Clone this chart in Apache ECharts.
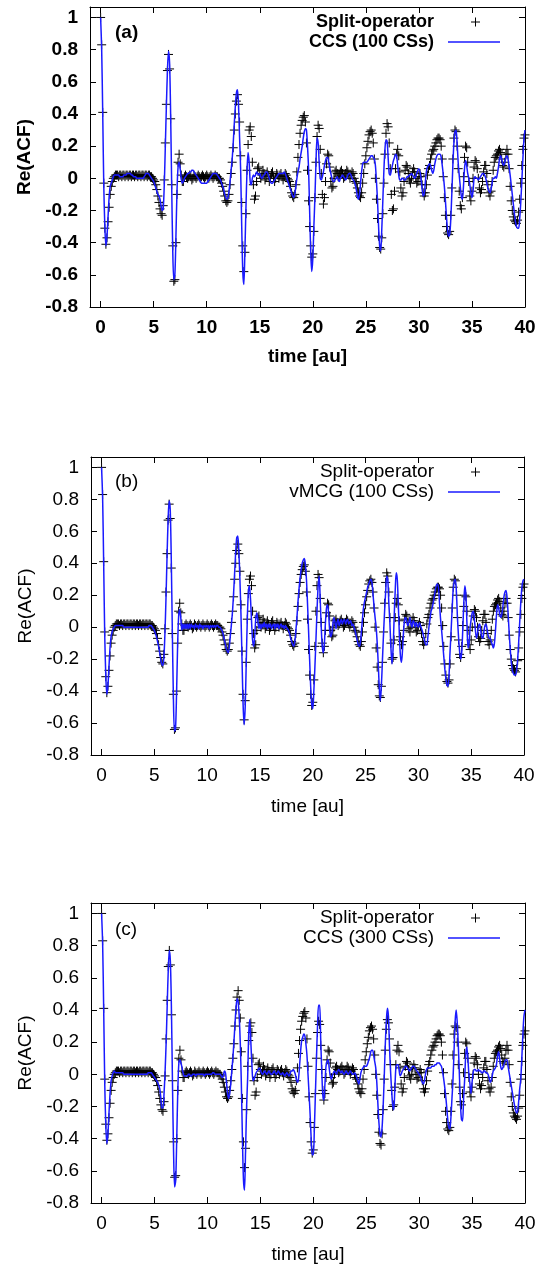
<!DOCTYPE html>
<html><head><meta charset="utf-8">
<script src="https://cdn.jsdelivr.net/npm/echarts@6/dist/echarts.min.js"></script>
<style>html,body{margin:0;padding:0;background:#fff}#c{width:541px;height:1270px}</style>
</head><body><div id="c"></div>
<script>
// time grid of all series: t = T_START + i * T_STEP  (0 ... 40 au)
const T_START = 0, T_STEP = 0.1;

const SPLIT_OPERATOR = [
 1.00, 0.83, 0.41,-0.03,-0.31,-0.41,-0.37,-0.27,-0.18,-0.10,
-0.05,-0.02, 0.00, 0.01, 0.02, 0.02, 0.02, 0.01, 0.02, 0.02,
 0.01, 0.02, 0.02, 0.01, 0.02, 0.02, 0.01, 0.02, 0.02, 0.01,
 0.02, 0.02, 0.01, 0.02, 0.02, 0.01, 0.02, 0.02, 0.01, 0.02,
 0.02, 0.01, 0.02, 0.02, 0.01, 0.02, 0.02, 0.01, 0.01, 0.00,
-0.01,-0.02,-0.04,-0.07,-0.11,-0.15,-0.19,-0.22,-0.23,-0.17,
-0.01, 0.22, 0.46, 0.67, 0.77, 0.68, 0.37,-0.04,-0.42,-0.64,
-0.63,-0.40,-0.10, 0.10, 0.15, 0.09, 0.02,-0.02,-0.02, 0.01,
 0.02, 0.01, 0.00, 0.01, 0.02, 0.01,-0.01, 0.00, 0.02, 0.01,
 0.00, 0.01, 0.02, 0.01, 0.00, 0.01, 0.02, 0.01, 0.00, 0.01,
 0.02, 0.01, 0.00, 0.01, 0.02, 0.01, 0.00, 0.01, 0.02, 0.01,
 0.01, 0.00, 0.00,-0.01,-0.03,-0.05,-0.08,-0.11,-0.14,-0.15,
-0.14,-0.10,-0.04, 0.03, 0.10, 0.19, 0.30, 0.40, 0.48, 0.52,
 0.46, 0.35, 0.14,-0.15,-0.42,-0.58,-0.46,-0.22, 0.05, 0.21,
 0.30, 0.32, 0.26, 0.10,-0.04,-0.13,-0.11,-0.02, 0.06, 0.07,
 0.03, 0.00, 0.02, 0.05, 0.03,-0.01, 0.01, 0.04, 0.02,-0.02,
 0.00, 0.03, 0.04, 0.01,-0.02, 0.00, 0.03, 0.02, 0.00, 0.02,
 0.03, 0.01,-0.01, 0.01, 0.03, 0.02, 0.00,-0.01,-0.02,-0.05,
-0.09,-0.11,-0.12,-0.10,-0.04, 0.04, 0.13, 0.21, 0.28, 0.33,
 0.36, 0.38, 0.39, 0.35, 0.22, 0.05,-0.14,-0.30,-0.42,-0.49,
-0.47,-0.33,-0.12, 0.10, 0.26, 0.33, 0.31, 0.18, 0.03,-0.10,
-0.16,-0.12,-0.02, 0.09, 0.15, 0.14, 0.07,-0.02,-0.06,-0.05,
 0.00, 0.04, 0.05, 0.03, 0.01, 0.02, 0.04, 0.05, 0.03, 0.00,
 0.01, 0.03, 0.05, 0.04, 0.02, 0.00, 0.02, 0.04, 0.03, 0.00,
-0.02,-0.03,-0.06,-0.09,-0.11,-0.12,-0.09,-0.03, 0.03, 0.09,
 0.14, 0.19, 0.23, 0.27, 0.29, 0.30, 0.28, 0.22, 0.12, 0.00,
-0.13,-0.25,-0.36,-0.43,-0.44,-0.37,-0.22,-0.03, 0.15, 0.28,
 0.34, 0.32, 0.22, 0.06,-0.10,-0.20,-0.19,-0.08, 0.06, 0.15,
 0.18, 0.14, 0.04,-0.06,-0.11,-0.09,-0.02, 0.05, 0.08, 0.07,
 0.03,-0.01,-0.03, 0.00, 0.04, 0.06, 0.04, 0.00,-0.03,-0.02,
 0.01, 0.03, 0.01,-0.04,-0.09,-0.11,-0.09,-0.04, 0.02, 0.06,
 0.08, 0.12, 0.15, 0.17, 0.18, 0.20, 0.22, 0.24, 0.25, 0.25,
 0.24, 0.20, 0.12, 0.01,-0.12,-0.23,-0.30,-0.34,-0.35,-0.33,
-0.23,-0.06, 0.12, 0.25, 0.30, 0.29, 0.20, 0.06,-0.08,-0.17,
-0.19,-0.12, 0.01, 0.13, 0.20, 0.19, 0.10,-0.02,-0.11,-0.14,
-0.08, 0.00, 0.07, 0.11, 0.10, 0.06, 0.00,-0.06,-0.09,-0.07,
-0.02, 0.04, 0.08, 0.08, 0.03,-0.04,-0.09,-0.11,-0.08,-0.02,
 0.05, 0.10, 0.13, 0.14, 0.15, 0.17, 0.18, 0.16, 0.12, 0.08,
 0.07, 0.10, 0.15, 0.18, 0.15, 0.06,-0.05,-0.14,-0.20,-0.24,
-0.26,-0.27,-0.28,-0.26,-0.21,-0.13,-0.03, 0.08, 0.18, 0.25,
 0.27];

const CCS_100 = [
 1.00, 0.80, 0.40,-0.05,-0.30,-0.42,-0.36,-0.24,-0.12,-0.05,
-0.03,-0.01, 0.01, 0.02, 0.02, 0.02, 0.02, 0.02, 0.01, 0.01,
 0.01, 0.01, 0.02, 0.02, 0.02, 0.03, 0.03, 0.03, 0.03, 0.02,
 0.02, 0.01, 0.01, 0.01, 0.00, 0.00, 0.00, 0.00, 0.00, 0.00,
 0.00, 0.01, 0.02, 0.03, 0.03, 0.03, 0.02, 0.01, 0.00,-0.01,
-0.02,-0.04,-0.06,-0.08,-0.10,-0.11,-0.13,-0.17,-0.20,-0.19,
-0.04, 0.20, 0.45, 0.67, 0.79, 0.72, 0.40,-0.05,-0.45,-0.63,
-0.60,-0.36,-0.08, 0.07, 0.10, 0.06, 0.00,-0.03,-0.02, 0.00,
 0.01, 0.02, 0.03, 0.03, 0.04, 0.04, 0.05, 0.05, 0.04, 0.03,
 0.02, 0.01, 0.00,-0.01,-0.02,-0.03,-0.03,-0.03,-0.03,-0.03,
-0.03,-0.02,-0.01, 0.00, 0.01, 0.02, 0.03, 0.03, 0.03, 0.03,
 0.02, 0.01, 0.00,-0.01,-0.03,-0.05,-0.07,-0.10,-0.12,-0.13,
-0.12,-0.08,-0.02, 0.05, 0.12, 0.22, 0.34, 0.45, 0.53, 0.55,
 0.45, 0.25, 0.05,-0.30,-0.58,-0.66,-0.45,-0.18, 0.05, 0.16,
 0.10,-0.02,-0.04, 0.00, 0.02, 0.01, 0.02, 0.04, 0.03, 0.02,
 0.03, 0.01, 0.00, 0.01, 0.02, 0.03, 0.04, 0.04, 0.02, 0.00,
-0.02,-0.03,-0.03,-0.02,-0.01, 0.00, 0.01, 0.02, 0.03, 0.03,
 0.03, 0.03, 0.03, 0.04, 0.03, 0.01,-0.01,-0.03,-0.05,-0.07,
-0.09,-0.11,-0.12,-0.10,-0.05, 0.00, 0.04, 0.07, 0.12, 0.16,
 0.20, 0.25, 0.29, 0.31, 0.30, 0.20, 0.06,-0.20,-0.45,-0.58,
-0.50,-0.30,-0.12, 0.10, 0.25, 0.22, 0.10, 0.00,-0.01, 0.01,
 0.04, 0.08, 0.11, 0.13, 0.13, 0.10, 0.06, 0.03, 0.00,-0.02,
-0.02,-0.01, 0.00, 0.01,-0.01,-0.02, 0.00, 0.01, 0.02, 0.01,
 0.00,-0.01, 0.00, 0.02, 0.03, 0.03, 0.02, 0.00,-0.01,-0.02,
-0.04,-0.07,-0.11,-0.13,-0.10,-0.03, 0.04, 0.09, 0.10, 0.10,
 0.10, 0.10, 0.11, 0.12, 0.13, 0.14, 0.14, 0.13, 0.12, 0.08,
-0.02,-0.14,-0.30,-0.42,-0.45,-0.32,-0.14, 0.05, 0.18, 0.24,
 0.23, 0.13, 0.03, 0.02, 0.05, 0.08, 0.11, 0.13, 0.15, 0.14,
 0.08, 0.02,-0.01,-0.01, 0.00, 0.00,-0.01,-0.01, 0.00, 0.01,
 0.01, 0.02, 0.02, 0.03, 0.02, 0.01, 0.00, 0.01, 0.03, 0.05,
 0.06, 0.04, 0.00,-0.06,-0.11,-0.10,-0.03, 0.04, 0.07, 0.08,
 0.09, 0.08, 0.05, 0.03, 0.05, 0.09, 0.12, 0.14, 0.15, 0.15,
 0.15, 0.13, 0.08, 0.02,-0.05,-0.14,-0.24,-0.32,-0.36,-0.35,
-0.26,-0.10, 0.08, 0.22, 0.29, 0.30, 0.22, 0.10, 0.02,-0.05,
-0.11,-0.13,-0.05, 0.06, 0.11, 0.08, 0.03, 0.00,-0.04,-0.09,
-0.12,-0.08, 0.00, 0.01, 0.00, 0.00,-0.01, 0.00, 0.01, 0.02,
 0.03, 0.03, 0.02, 0.00,-0.03,-0.06,-0.08,-0.09,-0.07,-0.03,
 0.00, 0.00, 0.01, 0.00, 0.03, 0.07, 0.12, 0.14, 0.12, 0.09,
 0.08, 0.10, 0.13, 0.14, 0.12, 0.07, 0.02,-0.04,-0.10,-0.16,
-0.22,-0.27,-0.30,-0.31,-0.31,-0.25,-0.15,-0.02, 0.12, 0.24,
 0.30];

const VMCG_100 = [
 1.00, 0.81, 0.40,-0.05,-0.30,-0.42,-0.37,-0.25,-0.13,-0.06,
-0.03,-0.01, 0.00, 0.01, 0.01, 0.01, 0.01, 0.01, 0.01, 0.01,
 0.01, 0.00, 0.00, 0.00, 0.00, 0.00, 0.00, 0.00, 0.00, 0.00,
 0.00, 0.00, 0.00, 0.00, 0.00, 0.00, 0.00, 0.00, 0.00, 0.00,
 0.00, 0.00, 0.00, 0.00, 0.00, 0.01, 0.01, 0.01, 0.00,-0.01,
-0.02,-0.04,-0.06,-0.09,-0.12,-0.16,-0.20,-0.23,-0.24,-0.19,
-0.04, 0.18, 0.44, 0.67, 0.79, 0.74, 0.43,-0.02,-0.43,-0.65,
-0.64,-0.42,-0.12, 0.07, 0.11, 0.06,-0.02, 0.02,-0.01, 0.02,
-0.01, 0.02,-0.01, 0.02,-0.01, 0.02, 0.00, 0.01,-0.01, 0.02,
 0.00, 0.01,-0.01, 0.02, 0.00, 0.01,-0.01, 0.01, 0.00, 0.01,
 0.00, 0.01,-0.01, 0.01, 0.00, 0.01, 0.00, 0.01, 0.00, 0.01,
 0.01, 0.00, 0.00,-0.01,-0.02,-0.04,-0.07,-0.10,-0.13,-0.15,
-0.16,-0.12,-0.05, 0.02, 0.10, 0.21, 0.34, 0.47, 0.56, 0.57,
 0.47, 0.30, 0.08,-0.20,-0.48,-0.61,-0.50,-0.22, 0.05, 0.22,
 0.26, 0.18, 0.04,-0.08,-0.12,-0.06, 0.05, 0.09, 0.04,-0.01,
 0.02,-0.01, 0.02, 0.00, 0.03, 0.00, 0.02,-0.01, 0.02, 0.00,
 0.02,-0.01, 0.01, 0.02,-0.01, 0.02, 0.00, 0.02,-0.01, 0.01,
 0.02, 0.00, 0.01,-0.01, 0.01, 0.00,-0.01,-0.02,-0.04,-0.07,
-0.09,-0.11,-0.12,-0.09,-0.02, 0.06, 0.16, 0.24, 0.31, 0.36,
 0.40, 0.42, 0.43, 0.39, 0.30, 0.15,-0.02,-0.20,-0.37,-0.48,
-0.51,-0.40,-0.25,-0.08, 0.10, 0.25, 0.32, 0.18, 0.00,-0.12,
-0.16,-0.10, 0.03, 0.12, 0.14, 0.08,-0.02,-0.06,-0.04, 0.02,
 0.06, 0.03,-0.01, 0.03, 0.05, 0.01, 0.03, 0.05, 0.02, 0.04,
 0.05, 0.02, 0.04, 0.05, 0.02, 0.03, 0.04, 0.01, 0.02, 0.00,
-0.02,-0.05,-0.08,-0.11,-0.12,-0.10,-0.03, 0.05, 0.12, 0.16,
 0.19, 0.22, 0.25, 0.27, 0.29, 0.30, 0.28, 0.21, 0.13, 0.06,
 0.00,-0.10,-0.23,-0.38,-0.46,-0.36,-0.20,-0.04, 0.10, 0.22,
 0.32, 0.30, 0.15, 0.03,-0.13,-0.23,-0.14, 0.05, 0.22, 0.34,
 0.30, 0.14,-0.05,-0.18,-0.22,-0.14,-0.02, 0.05, 0.06, 0.03,
 0.01, 0.03, 0.06, 0.02, 0.00, 0.04, 0.03, 0.00, 0.03, 0.01,
 0.00, 0.03, 0.01,-0.01,-0.03,-0.06,-0.09,-0.11,-0.11,-0.06,
 0.00, 0.05, 0.10, 0.12, 0.15, 0.19, 0.23, 0.26, 0.27, 0.25,
 0.15, 0.05,-0.02,-0.10,-0.18,-0.26,-0.32,-0.36,-0.37,-0.30,
-0.15,-0.02, 0.12, 0.24, 0.29, 0.30, 0.22, 0.06,-0.06,-0.15,
-0.20,-0.16,-0.02, 0.15, 0.26, 0.20, 0.02,-0.13,-0.10, 0.00,
 0.05, 0.09, 0.10, 0.05,-0.02,-0.07,-0.04, 0.01, 0.02,-0.02,
-0.06,-0.07,-0.03, 0.01, 0.02,-0.01,-0.05,-0.07,-0.07,-0.09,
-0.11,-0.13,-0.10,-0.02, 0.08, 0.14, 0.12, 0.08, 0.06, 0.08,
 0.13, 0.19, 0.22, 0.23, 0.18, 0.08,-0.04,-0.14,-0.22,-0.27,
-0.29,-0.30,-0.30,-0.27,-0.20,-0.09, 0.04, 0.16, 0.25, 0.29,
 0.30];

const CCS_300 = [
 1.00, 0.81, 0.40,-0.06,-0.32,-0.43,-0.37,-0.24,-0.12,-0.04,
-0.01, 0.01, 0.02, 0.01, 0.01, 0.01, 0.01, 0.01, 0.01, 0.01,
 0.01, 0.00, 0.00, 0.00, 0.00, 0.00, 0.00, 0.00, 0.00, 0.00,
 0.00, 0.00, 0.00, 0.00, 0.00, 0.00, 0.00, 0.00, 0.00, 0.00,
 0.00, 0.00, 0.00, 0.00, 0.01, 0.01, 0.01, 0.01, 0.00,-0.01,
-0.02,-0.03,-0.04,-0.05,-0.07,-0.09,-0.15,-0.21,-0.21,-0.12,
 0.02, 0.20, 0.43, 0.65, 0.77, 0.70, 0.40,-0.07,-0.48,-0.70,
-0.66,-0.40,-0.10, 0.07, 0.09, 0.07, 0.04, 0.01,-0.01,-0.01,
-0.01,-0.01, 0.00, 0.00,-0.01,-0.01, 0.00, 0.00, 0.00,-0.01,
 0.00, 0.00, 0.00, 0.00, 0.00, 0.00, 0.00,-0.01, 0.00, 0.00,
 0.00, 0.00, 0.00, 0.00, 0.00, 0.01, 0.01, 0.00, 0.00, 0.00,
 0.00, 0.00, 0.00,-0.01,-0.02,-0.01, 0.02, 0.01,-0.05,-0.12,
-0.15,-0.12,-0.06, 0.02, 0.10, 0.20, 0.31, 0.41, 0.47, 0.45,
 0.36, 0.20,-0.05,-0.38,-0.65,-0.72,-0.48,-0.20,-0.02, 0.25,
 0.34, 0.20, 0.06,-0.04,-0.03,-0.01, 0.01, 0.02, 0.03, 0.04,
 0.03, 0.01, 0.00, 0.01, 0.02, 0.01, 0.00, 0.01, 0.02, 0.01,
 0.00, 0.00, 0.01, 0.02, 0.01, 0.00, 0.01, 0.02, 0.01, 0.00,
 0.00, 0.01, 0.00,-0.01, 0.00, 0.01, 0.00,-0.01, 0.00, 0.02,
 0.02, 0.03, 0.02, 0.00,-0.03,-0.05,-0.03, 0.05, 0.14, 0.21,
 0.23, 0.25, 0.24, 0.19, 0.12, 0.00,-0.12,-0.25,-0.40,-0.50,
-0.50,-0.34,-0.12, 0.10, 0.30, 0.43, 0.43, 0.22, 0.02,-0.13,
-0.16,-0.06, 0.05, 0.08, 0.09, 0.04,-0.01,-0.03,-0.01, 0.01,
 0.02, 0.01, 0.00, 0.02, 0.03, 0.02, 0.01, 0.02, 0.01, 0.00,
 0.01, 0.02, 0.01, 0.00, 0.01, 0.02, 0.01, 0.00, 0.00, 0.01,
 0.00,-0.02,-0.04,-0.06,-0.03, 0.01, 0.03, 0.04, 0.05, 0.05,
 0.05, 0.06, 0.08, 0.10, 0.13, 0.15, 0.15, 0.12, 0.08, 0.04,
-0.05,-0.18,-0.30,-0.37,-0.39,-0.33,-0.20,-0.02, 0.18, 0.33,
 0.41, 0.36, 0.17, 0.02,-0.10,-0.19,-0.22,-0.10, 0.04, 0.06,
 0.06, 0.03,-0.01, 0.00, 0.02, 0.03, 0.04, 0.05, 0.05, 0.04,
 0.03, 0.02, 0.03, 0.04, 0.05, 0.05, 0.04, 0.03, 0.02, 0.01,
 0.00,-0.01,-0.03,-0.05,-0.06,-0.04, 0.00, 0.03, 0.04, 0.04,
 0.04, 0.04, 0.05, 0.05, 0.05, 0.06, 0.06, 0.07, 0.07, 0.07,
 0.06, 0.05, 0.02,-0.02,-0.07,-0.13,-0.20,-0.28,-0.33,-0.34,
-0.27,-0.15,-0.03, 0.15, 0.33, 0.40, 0.32, 0.18, 0.00,-0.18,
-0.28,-0.29,-0.15,-0.03, 0.12, 0.17, 0.10, 0.00,-0.06,-0.12,
-0.05, 0.01, 0.03, 0.03, 0.02, 0.02, 0.03, 0.02, 0.02, 0.01,
 0.01, 0.02, 0.02, 0.01, 0.01, 0.00,-0.02,-0.05,-0.04,-0.01,
 0.02, 0.03, 0.04, 0.06, 0.11, 0.14, 0.10, 0.05, 0.03, 0.04,
 0.06, 0.08, 0.09, 0.09, 0.05, 0.01,-0.03,-0.07,-0.11,-0.15,
-0.19,-0.22,-0.24,-0.23,-0.17,-0.09,-0.03, 0.10, 0.25, 0.36,
 0.40];

const X_TICKS = [0, 5, 10, 15, 20, 25, 30, 35, 40];
const Y_TICKS = [-0.8, -0.6, -0.4, -0.2, 0, 0.2, 0.4, 0.6, 0.8, 1];
const PANEL_LABELS = ['(a)', '(b)', '(c)'];
const SCATTER_NAME = 'Split-operator';
const CURVE_NAMES = ['CCS (100 CSs)', 'vMCG (100 CSs)', 'CCS (300 CSs)'];
const X_TITLE = 'time [au]';
const Y_TITLE = 'Re(ACF)';

const CURVES = [CCS_100, VMCG_100, CCS_300];
const pairs = arr => arr.map((v, i) => [Math.round((T_START + i * T_STEP) * 10) / 10, v]);

const FONT = "'Liberation Sans', Arial, sans-serif";
const BLUE = '#1a1aff';
const MARK = '#000';
const PANELS = [
  { left: 90, top: 7,   width: 435, height: 300, bold: true,  xGap: 40, lab: 33,  leg1: 22,  leg2: 42 },
  { left: 91, top: 457, width: 433, height: 298, bold: false, xGap: 42, lab: 482, leg1: 472, leg2: 492 },
  { left: 91, top: 903, width: 434, height: 300, bold: false, xGap: 42, lab: 930, leg1: 918, leg2: 938 }
];

const grid = [], xAxis = [], yAxis = [], series = [], graphic = [];
PANELS.forEach((p, i) => {
  const fw = p.bold ? 'bold' : 'normal';
  const fs = 19;
  grid.push({ left: p.left, top: p.top, width: p.width, height: p.height, containLabel: false });
  const line = { show: true, onZero: false, lineStyle: { color: '#000', width: 1 } };
  const tick = { show: true, inside: true, length: 6, customValues: X_TICKS, lineStyle: { color: '#000', width: 1 } };
  const ytick = Object.assign({}, tick, { customValues: Y_TICKS });
  const txt = { color: '#000', fontSize: fs, fontWeight: fw, fontFamily: FONT };
  xAxis.push({ gridIndex: i, type: 'value', min: -1, max: 40, position: 'bottom',
    axisLine: line, axisTick: tick, splitLine: { show: false },
    axisLabel: Object.assign({ customValues: X_TICKS, margin: 11 }, txt),
    name: X_TITLE, nameLocation: 'middle', nameGap: p.xGap, nameTextStyle: txt });
  xAxis.push({ gridIndex: i, type: 'value', min: -1, max: 40, position: 'top',
    axisLine: line, axisTick: tick, splitLine: { show: false }, axisLabel: { show: false } });
  yAxis.push({ gridIndex: i, type: 'value', min: -0.8, max: 1.065, position: 'left',
    axisLine: line, axisTick: ytick, splitLine: { show: false },
    axisLabel: Object.assign({ customValues: Y_TICKS, margin: 12 }, txt),
    name: Y_TITLE, nameLocation: 'middle', nameGap: 55, nameTextStyle: txt });
  yAxis.push({ gridIndex: i, type: 'value', min: -0.8, max: 1.065, position: 'right',
    axisLine: line, axisTick: ytick, splitLine: { show: false }, axisLabel: { show: false } });

  series.push({ type: 'scatter', name: SCATTER_NAME, xAxisIndex: 2 * i, yAxisIndex: 2 * i,
    data: pairs(SPLIT_OPERATOR), symbol: 'path://M0,5L10,5M5,0L5,10', symbolSize: 9,
    itemStyle: { color: 'rgba(0,0,0,0)', borderColor: MARK, borderWidth: 1, opacity: 1 },
    z: 2, silent: true });
  series.push({ type: 'line', name: CURVE_NAMES[i], xAxisIndex: 2 * i, yAxisIndex: 2 * i,
    data: pairs(CURVES[i]), showSymbol: false, smooth: 0.3,
    lineStyle: { color: BLUE, width: 1.5 }, z: 3, silent: true });

  const font = fw + ' ' + (p.bold ? 18 : 19) + 'px ' + FONT;
  graphic.push({ type: 'text', x: 115, y: p.lab, style: { text: PANEL_LABELS[i], font: fw + ' 19px ' + FONT, fill: '#000', align: 'left', verticalAlign: 'middle' } });
  graphic.push({ type: 'text', x: 434, y: p.leg1, style: { text: SCATTER_NAME, font: font, fill: '#000', align: 'right', verticalAlign: 'middle' } });
  graphic.push({ type: 'text', x: 434, y: p.leg2, style: { text: CURVE_NAMES[i], font: font, fill: '#000', align: 'right', verticalAlign: 'middle' } });
  graphic.push({ type: 'line', shape: { x1: 471, y1: p.leg1, x2: 480, y2: p.leg1 }, style: { stroke: MARK, lineWidth: 1 } });
  graphic.push({ type: 'line', shape: { x1: 475.5, y1: p.leg1 - 4.5, x2: 475.5, y2: p.leg1 + 4.5 }, style: { stroke: MARK, lineWidth: 1 } });
  graphic.push({ type: 'line', shape: { x1: 448, y1: p.leg2, x2: 500, y2: p.leg2 }, style: { stroke: BLUE, lineWidth: 1.5 } });
});

const chart = echarts.init(document.getElementById('c'), null, { renderer: 'canvas' });
chart.setOption({ animation: false, backgroundColor: '#fff', grid, xAxis, yAxis, series, graphic });
</script>
</body></html>
